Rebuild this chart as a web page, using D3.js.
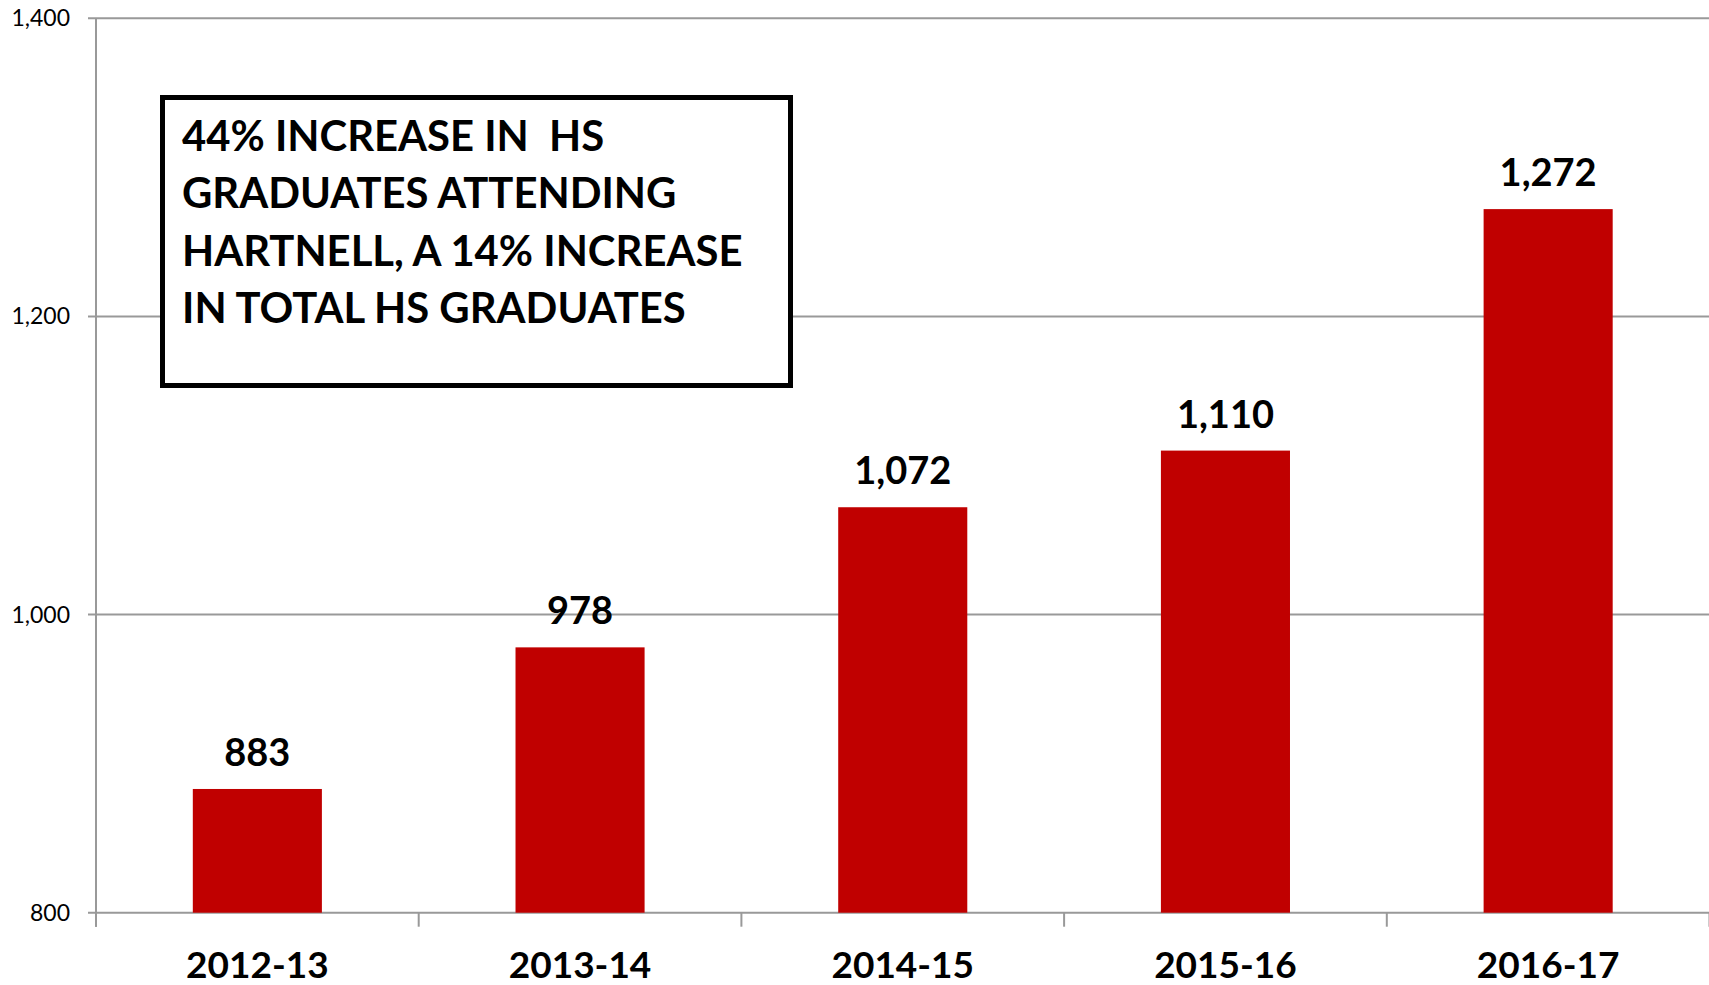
<!DOCTYPE html>
<html>
<head>
<meta charset="utf-8">
<script src="https://cdn.jsdelivr.net/npm/d3@7"></script>
<style>
  html, body { margin: 0; padding: 0; background: #fff; }
  svg { display: block; }
</style>
</head>
<body>
<svg id="chart" width="1709" height="985"></svg>
<script>
// school years on the x axis
var years = ["2012-13", "2013-14", "2014-15", "2015-16", "2016-17"];
// HS graduates attending Hartnell
var graduates = [883, 978, 1072, 1110, 1272];
// y axis ticks
var yTicks = [800, 1000, 1200, 1400];
// annotation box lines
var noteLines = [
    "44% INCREASE IN  HS",
    "GRADUATES ATTENDING",
    "HARTNELL, A 14% INCREASE",
    "IN TOTAL HS GRADUATES"
];

var width = 1709, height = 985;
var margin = {top: 18, right: 0, bottom: 72, left: 96};

var svg = d3.select("#chart");

var x = d3.scaleBand()
    .domain(years)
    .range([margin.left, width - margin.right + 0.5])
    .paddingInner(0.6)
    .paddingOuter(0.3);

var y = d3.scaleLinear()
    .domain([800, 1400])
    .range([height - margin.bottom - 0.3, margin.top + 0.3]);

var fmt = d3.format(",");

//horizontal gridlines
svg.append("g")
    .selectAll("line")
    .data(yTicks)
    .enter()
    .append("line")
    .attr("x1", margin.left - 8)
    .attr("x2", width)
    .attr("y1", function(d) { return y(d); })
    .attr("y2", function(d) { return y(d); })
    .attr("stroke", "#999")
    .attr("stroke-width", 2);

//y axis labels
svg.append("g")
    .selectAll("text")
    .data(yTicks)
    .enter()
    .append("text")
    .attr("x", 70)
    .attr("y", function(d) { return y(d); })
    .attr("dy", "0.35em")
    .attr("text-anchor", "end")
    .style("font-family", "Lato, sans-serif")
    .style("font-size", "23px")
    .attr("fill", "#000")
    .text(function(d) { return fmt(d); });

//vertical axis line
svg.append("line")
    .attr("x1", margin.left).attr("x2", margin.left)
    .attr("y1", y(1400)).attr("y2", y(800) + 14)
    .attr("stroke", "#999")
    .attr("stroke-width", 2);

//category boundary ticks on the x axis
var step = x.step();
var bounds = years.map(function(d) { return x(d) - x.bandwidth() * 0.75; });
bounds.push(bounds[bounds.length - 1] + step);
svg.append("g")
    .selectAll("line")
    .data(bounds)
    .enter()
    .append("line")
    .attr("x1", function(d) { return d; })
    .attr("x2", function(d) { return d; })
    .attr("y1", y(800))
    .attr("y2", y(800) + 14)
    .attr("stroke", "#999")
    .attr("stroke-width", 2);

//bars
svg.append("g")
    .selectAll("rect")
    .data(graduates)
    .enter()
    .append("rect")
    .attr("x", function(d, i) { return x(years[i]); })
    .attr("width", x.bandwidth())
    .attr("y", function(d) { return y(d); })
    .attr("height", function(d) { return y(800) - y(d); })
    .attr("fill", "#c00000");

//value labels
svg.append("g")
    .selectAll("text")
    .data(graduates)
    .enter()
    .append("text")
    .attr("x", function(d, i) { return x(years[i]) + x.bandwidth() / 2; })
    .attr("y", function(d) { return y(d) - 23; })
    .attr("text-anchor", "middle")
    .style("font-family", "Lato, sans-serif")
    .style("font-weight", "bold")
    .style("font-size", "38px")
    .attr("fill", "#000")
    .text(function(d) { return fmt(d); });

//category labels
svg.append("g")
    .selectAll("text")
    .data(years)
    .enter()
    .append("text")
    .attr("x", function(d) { return x(d) + x.bandwidth() / 2; })
    .attr("y", 978)
    .attr("text-anchor", "middle")
    .style("font-family", "Lato, sans-serif")
    .style("font-weight", "bold")
    .style("font-size", "37px")
    .attr("fill", "#000")
    .text(function(d) { return d; });

//annotation box
svg.append("rect")
    .attr("x", 162.5).attr("y", 97.5)
    .attr("width", 628).attr("height", 288)
    .attr("fill", "#fff")
    .attr("stroke", "#000")
    .attr("stroke-width", 5);

svg.append("g")
    .selectAll("text")
    .data(noteLines)
    .enter()
    .append("text")
    .attr("x", 182)
    .attr("y", function(d, i) { return 151 + i * 57.3; })
    .attr("xml:space", "preserve")
    .style("white-space", "pre")
    .style("font-family", "Lato, sans-serif")
    .style("font-weight", "bold")
    .style("font-size", "41.8px")
    .attr("fill", "#000")
    .text(function(d) { return d; });
</script>
</body>
</html>
